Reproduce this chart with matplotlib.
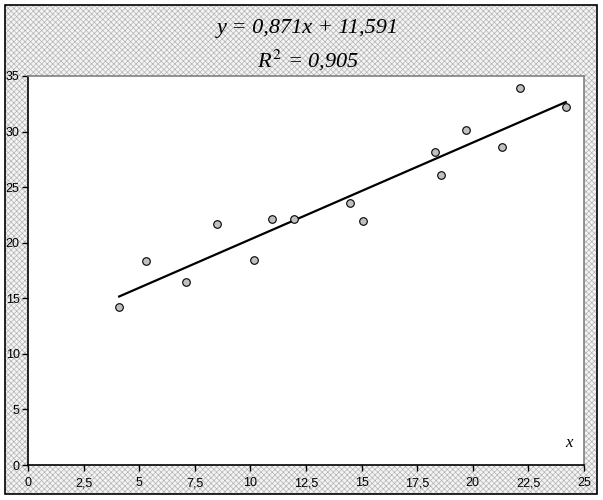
import numpy as np
import matplotlib
matplotlib.use("Agg")
import matplotlib.pyplot as plt
from matplotlib.patches import Rectangle
from matplotlib.ticker import MultipleLocator, FuncFormatter

# данные
x_vals = [4.10, 5.29, 7.10, 8.48, 10.18, 10.98, 11.97, 14.48, 15.08,
          18.29, 18.58, 19.71, 21.31, 22.11, 24.18]
y_vals = [14.24, 18.38, 16.44, 21.68, 18.47, 22.16, 22.11, 23.55, 21.95,
          28.19, 26.12, 30.17, 28.59, 33.95, 32.24]

slope = 0.871
intercept = 11.591
r2 = 0.905

plt.rcParams['hatch.linewidth'] = 0.5

fig = plt.figure(figsize=(6.03, 5.00), dpi=100)

# фон с узором + рамка
fig.patches.append(Rectangle((5 / 603, 6 / 500), 592 / 603, 489 / 500,
                             transform=fig.transFigure, facecolor='#f4f4f4',
                             edgecolor='#b4b4b4', hatch='xxxxxx', lw=0, zorder=-10))
fig.patches.append(Rectangle((5 / 603, 6 / 500), 592 / 603, 489 / 500,
                             transform=fig.transFigure, facecolor='none',
                             edgecolor='black', lw=1.2, zorder=-9))

ax = fig.add_axes([28 / 603, 35 / 500, 556 / 603, 389 / 500])
ax.set_facecolor('white')

ax.scatter(x_vals, y_vals, s=30, facecolor='#c0c0c0', edgecolor='black',
           linewidth=0.8, zorder=3)

xl = np.array([min(x_vals), max(x_vals)])
ax.plot(xl, slope * xl + intercept, color='black', lw=1.6, zorder=2)

ax.set_xlim(0, 25)
ax.set_ylim(0, 35)
ax.xaxis.set_major_locator(MultipleLocator(2.5))
ax.yaxis.set_major_locator(MultipleLocator(5))
fmt = FuncFormatter(lambda v, p: ('%g' % v).replace('.', ','))
ax.xaxis.set_major_formatter(fmt)
ax.yaxis.set_major_formatter(fmt)
ax.tick_params(direction='out', length=4, width=1, labelsize=9,
               pad=5, colors='black')
for lab in ax.get_xticklabels() + ax.get_yticklabels():
    lab.set_family('Liberation Sans')
ax.tick_params(axis='y', pad=2)

for s in ['left', 'bottom']:
    ax.spines[s].set_color('black')
    ax.spines[s].set_linewidth(1.2)
for s in ['top', 'right']:
    ax.spines[s].set_color('#808080')
    ax.spines[s].set_linewidth(1.2)

ax.text(24.3, 2.0, 'x', fontsize=12, style='italic', family='Liberation Serif',
        ha='center', va='center')

eq = 'y = %sx + %s' % (('%.3f' % slope).replace('.', ','),
                       ('%.3f' % intercept).replace('.', ','))
fig.text(308 / 603, 1 - 28 / 500, eq, fontsize=16, style='italic',
         family='Liberation Serif', ha='center', va='center')
fig.text(308 / 603, 1 - 60 / 500,
         r'R$^{\,2}$ = ' + ('%.3f' % r2).replace('.', ','),
         fontsize=16, style='italic', family='Liberation Serif',
         ha='center', va='center', math_fontfamily='stix')

fig.savefig('out.png', dpi=100)
